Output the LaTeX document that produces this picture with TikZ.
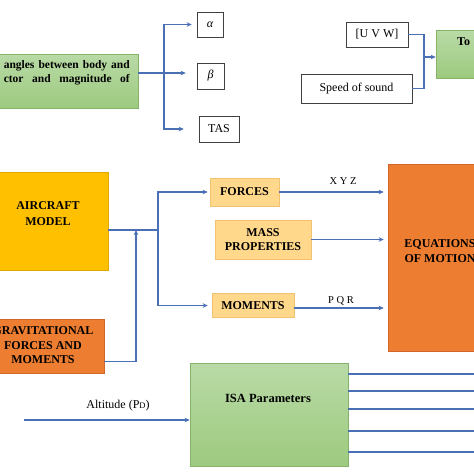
\documentclass[tikz,border=0pt]{standalone}
\usepackage{fontspec}
\setmainfont{Liberation Serif}
\usetikzlibrary{arrows.meta,calc}
\definecolor{lineblue}{HTML}{4A6FB5}
\definecolor{gtop}{HTML}{B9DAA6}
\definecolor{gbot}{HTML}{9DCA7F}
\definecolor{gedge}{HTML}{86B36A}
\definecolor{gold}{HTML}{FFC000}
\definecolor{goldedge}{HTML}{E0A900}
\definecolor{orng}{HTML}{ED7D31}
\definecolor{orngedge}{HTML}{D0662A}
\definecolor{peach}{HTML}{FFD88C}
\definecolor{peachedge}{HTML}{F0C272}
\begin{document}
\begin{tikzpicture}[x=1pt,y=-1pt,
  conn/.style={draw=lineblue,line width=1.3pt},
  arr/.style={conn,-{Stealth[length=5pt,width=4.5pt]}},
  wbox/.style={draw=black!75,line width=0.6pt,fill=white,inner sep=0pt},
  greenbox/.style={draw=gedge,line width=0.6pt,top color=gtop,bottom color=gbot,inner sep=0pt},
  goldbox/.style={draw=goldedge,line width=0.6pt,fill=gold,inner sep=0pt},
  orngbox/.style={draw=orngedge,line width=0.6pt,fill=orng,inner sep=0pt},
  peachbox/.style={draw=peachedge,line width=0.6pt,fill=peach,inner sep=0pt,align=center,font=\bfseries\fontsize{12}{14}\selectfont},
  btxt/.style={inner sep=0pt,align=center,font=\bfseries\fontsize{12}{14}\selectfont},
  rtxt/.style={inner sep=0pt,align=center,font=\fontsize{12}{14}\selectfont},
  stxt/.style={inner sep=0pt,font=\fontsize{10.5}{12}\selectfont}]
\useasboundingbox (0,0) rectangle (474,474);
\clip (0,0) rectangle (474,474);
\fill[white] (0,0) rectangle (474,474);

% ---------- top left ----------
\node[greenbox,minimum width=158,minimum height=54] (gbox) at (59,81) {};
\node[btxt,font=\bfseries\fontsize{11.5}{14}\selectfont,align=left,anchor=east] (gtxt) at (130,73)
  {\makebox[126pt][s]{angles between body and}\\\makebox[126pt][s]{ctor and magnitude of}};
\node[wbox,minimum width=26,minimum height=25] (alpha) at (210,24.5) {\fontsize{12}{14}\selectfont\itshape α};
\node[wbox,minimum width=27,minimum height=26] (beta) at (210.5,76) {\fontsize{12}{14}\selectfont\itshape β};
\node[wbox,minimum width=40,minimum height=26] (tas) at (219,129) {\fontsize{12}{14}\selectfont TAS};
\coordinate (tj) at (164,73);
\draw[conn] (gbox.east |- tj) -- (tj);
\draw[arr,shorten >=5pt] (tj) |- (alpha.west);
\draw[arr,shorten >=11pt] (tj) -- (beta.west |- tj);
\draw[arr,shorten >=15pt] (tj) |- (tas.west);

% ---------- top right ----------
\node[wbox,minimum width=62,minimum height=25] (uvw) at (377,34.5) {\fontsize{12}{14}\selectfont [U V W]};
\node[wbox,minimum width=111,minimum height=29] (speed) at (356.5,88.5) {\fontsize{12}{14}\selectfont Speed of sound};
\node[greenbox,minimum width=64,minimum height=48] (tobox) at (468,54) {};
\node[btxt,anchor=west] (totxt) at (457,42) {To};
\coordinate (sj) at (424,57);
\draw[conn] (uvw.east) -| (sj);
\draw[conn] (speed.east) -| (sj);
\draw[arr] (sj) -- (tobox.west |- sj);

% ---------- middle ----------
\node[goldbox,minimum width=120,minimum height=98] (aircraft) at (48,221) {};
\node[btxt,font=\bfseries\fontsize{12}{16}\selectfont] (actxt) at (48,214) {AIRCRAFT\\MODEL};
\node[orngbox,minimum width=122,minimum height=54] (grav) at (43,346) {};
\node[btxt,font=\bfseries\fontsize{12}{14.5}\selectfont] (gvtxt) at (43,345.5) {GRAVITATIONAL\\FORCES AND\\MOMENTS};
\node[peachbox,minimum width=69,minimum height=28] (forces) at (244.5,192) {FORCES};
\node[peachbox,minimum width=96,minimum height=39] (mass) at (263,239.5) {MASS\\PROPERTIES};
\node[peachbox,minimum width=82,minimum height=24] (moments) at (253,305.5) {MOMENTS};
\node[orngbox,minimum width=102,minimum height=187] (eom) at (439,257.5) {};
\node[btxt,font=\bfseries\fontsize{12}{15}\selectfont] (eomtxt) at (440,251) {EQUATIONS\\OF MOTION};

\coordinate (aj) at (158,230);
\coordinate (gj) at (136,230);
\draw[conn] (aircraft.east |- aj) -- (aj);
\draw[arr,shorten >=2pt] (aj) |- (forces.west);
\draw[arr,shorten >=4pt] (aj) |- (moments.west);
\draw[arr] ($(grav.south east)+(0,-12)$) -| (gj);

\draw[arr,shorten >=4pt] (forces.east) -- (forces.east -| eom.west);
\draw[arr,shorten >=4pt] (mass.east) -- (mass.east -| eom.west);
\draw[arr,shorten >=4pt] ($(moments.east)+(0,2.5)$) -- ($(moments.east -| eom.west)+(0,2.5)$);
\node[stxt] (xyz) at (343,181) {X Y Z};
\node[stxt] (pqr) at (341,301) {P Q R};

% ---------- bottom ----------
\node[greenbox,minimum width=158,minimum height=103] (isa) at (269,414.5) {};
\node[btxt,font=\bfseries\fontsize{12.5}{14}\selectfont] (isatxt) at (268,398) {ISA Parameters};
\coordinate (alt) at (24,420);
\draw[arr] (alt) -- (alt -| isa.west);
\node[rtxt,font=\fontsize{12}{14}\selectfont] (alttxt) at (118,406) {Altitude (P{\fontsize{8.5}{9}\selectfont D})};
\coordinate (o1) at (474,374);
\coordinate (o2) at (474,391);
\coordinate (o3) at (474,409);
\coordinate (o4) at (474,431);
\coordinate (o5) at (474,452);
\foreach \o in {o1,o2,o3,o4,o5} \draw[conn] (isa.east |- \o) -- (\o);
\end{tikzpicture}
\end{document}
